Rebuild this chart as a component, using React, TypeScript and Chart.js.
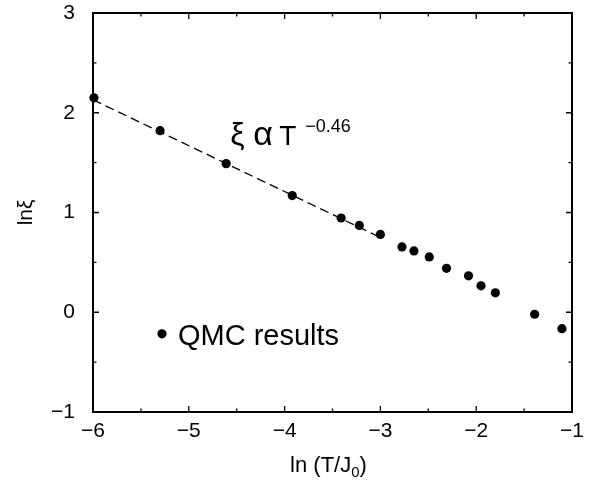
import React, { useEffect, useRef } from "react";
import { Chart, registerables } from "chart.js";

Chart.register(...registerables);

// QMC data: ln(T/J0) vs ln(xi)
const lnT = [-5.99, -5.3, -4.61, -3.92, -3.41, -3.22, -3.0, -2.775, -2.65, -2.49, -2.31, -2.08, -1.95, -1.8, -1.39, -1.105];
const lnXi = [2.15, 1.82, 1.49, 1.17, 0.945, 0.87, 0.78, 0.655, 0.615, 0.555, 0.44, 0.365, 0.265, 0.195, -0.02, -0.165];

// power-law fit  xi ~ T^-0.46
const fitX = [-6, -3];
const fitY = [2.13, 0.75];

const xRange = [-6, -1];
const yRange = [-1, 3];
const xMinorTicks = [-5.5, -4.5, -3.5, -2.5, -1.5];
const yMinorTicks = [-0.5, 0.5, 1.5, 2.5];

const annotationPos = { x: -4.567, y: 1.68 };
const legendPos = { x: -5.28, y: -0.216 };

const FONT = '"Liberation Sans", Arial, Helvetica, sans-serif';

const fmt = (v: number | string) => String(v).replace("-", "\u2212");

const framePlugin = {
  id: "frame",
  afterDraw(chart: any) {
    const { ctx, chartArea: a, scales } = chart;
    const xs = scales.x;
    const ys = scales.y;
    ctx.save();
    ctx.strokeStyle = "#000";
    ctx.lineCap = "butt";
    // ticks
    ctx.lineWidth = 1.3;
    const major = 6;
    const minor = 3.5;
    const drawX = (v: number, len: number) => {
      const p = xs.getPixelForValue(v);
      ctx.beginPath();
      ctx.moveTo(p, a.bottom);
      ctx.lineTo(p, a.bottom - len);
      ctx.moveTo(p, a.top);
      ctx.lineTo(p, a.top + len);
      ctx.stroke();
    };
    const drawY = (v: number, len: number) => {
      const p = ys.getPixelForValue(v);
      ctx.beginPath();
      ctx.moveTo(a.left, p);
      ctx.lineTo(a.left + len, p);
      ctx.moveTo(a.right, p);
      ctx.lineTo(a.right - len, p);
      ctx.stroke();
    };
    xs.ticks.forEach((t: any) => drawX(t.value, major));
    xMinorTicks.forEach((v) => drawX(v, minor));
    ys.ticks.forEach((t: any) => drawY(t.value, major));
    yMinorTicks.forEach((v) => drawY(v, minor));
    // frame
    ctx.lineWidth = 2;
    ctx.strokeRect(a.left, a.top, a.right - a.left, a.bottom - a.top);

    ctx.fillStyle = "#000";
    // annotation  xi alpha T^-0.46
    const ax = xs.getPixelForValue(annotationPos.x);
    const ay = ys.getPixelForValue(annotationPos.y);
    ctx.textAlign = "left";
    ctx.textBaseline = "alphabetic";
    ctx.font = `32px ${FONT}`;
    ctx.fillText("\u03BE", ax, ay);
    ctx.font = `34px ${FONT}`;
    ctx.fillText("\u03B1", ax + 23, ay);
    ctx.font = `28px ${FONT}`;
    ctx.fillText("T", ax + 49, ay);
    ctx.font = `18px ${FONT}`;
    ctx.fillText("\u22120.46", ax + 75, ay - 13);

    // legend
    const lx = xs.getPixelForValue(legendPos.x);
    const ly = ys.getPixelForValue(legendPos.y);
    ctx.beginPath();
    ctx.arc(lx, ly, 4.6, 0, Math.PI * 2);
    ctx.fill();
    ctx.font = `29px ${FONT}`;
    ctx.textBaseline = "alphabetic";
    ctx.fillText("QMC results", lx + 16, ly + 11);

    // x title: ln (T/J0)
    ctx.font = `22px ${FONT}`;
    const t1 = "ln (T/J";
    const t3 = ")";
    const w1 = ctx.measureText(t1).width;
    const w3 = ctx.measureText(t3).width;
    ctx.font = `15px ${FONT}`;
    const w2 = ctx.measureText("0").width;
    const total = w1 + w2 + w3;
    const cx = (a.left + a.right) / 2 - 4;
    const bx = cx - total / 2;
    const by = 471.5;
    ctx.font = `22px ${FONT}`;
    ctx.fillText(t1, bx, by);
    ctx.font = `15px ${FONT}`;
    ctx.fillText("0", bx + w1, by + 5);
    ctx.font = `22px ${FONT}`;
    ctx.fillText(t3, bx + w1 + w2, by);

    // y title: ln xi
    ctx.save();
    ctx.translate(26, (a.top + a.bottom) / 2);
    ctx.rotate(-Math.PI / 2);
    ctx.textAlign = "center";
    ctx.textBaseline = "middle";
    ctx.font = `21px ${FONT}`;
    ctx.fillText("ln\u03BE", 0, 0);
    ctx.restore();

    ctx.restore();
  },
};

export default function App() {
  const ref = useRef<HTMLCanvasElement | null>(null);
  useEffect(() => {
    if (!ref.current) return;
    const chart = new Chart(ref.current, {
      type: "scatter",
      data: {
        datasets: [
          {
            type: "line",
            label: "fit",
            data: fitX.map((x, i) => ({ x, y: fitY[i] })),
            borderColor: "#000",
            borderWidth: 1.3,
            borderDash: [9, 5],
            pointRadius: 0,
            fill: false,
          } as any,
          {
            label: "QMC results",
            data: lnT.map((x, i) => ({ x, y: lnXi[i] })),
            backgroundColor: "#000",
            borderColor: "#000",
            borderWidth: 0,
            pointRadius: 4.6,
            clip: false,
          } as any,
        ],
      },
      options: {
        animation: false,
        responsive: true,
        maintainAspectRatio: false,
        layout: { autoPadding: false, padding: { top: 13, right: 23, left: 0, bottom: 0 } },
        plugins: { legend: { display: false }, tooltip: { enabled: false } },
        scales: {
          x: {
            type: "linear",
            min: xRange[0],
            max: xRange[1],
            grid: { display: false, drawTicks: false },
            border: { display: false },
            ticks: {
              stepSize: 1,
              padding: 7,
              color: "#000",
              font: { family: FONT, size: 21 },
              callback: (v: any) => fmt(v),
              maxRotation: 0,
            },
            afterFit: (s: any) => {
              s.height = 68;
              s.paddingLeft = 0;
              s.paddingRight = 0;
            },
          },
          y: {
            type: "linear",
            min: yRange[0],
            max: yRange[1],
            grid: { display: false, drawTicks: false },
            border: { display: false },
            ticks: {
              stepSize: 1,
              padding: 18,
              color: "#000",
              font: { family: FONT, size: 21 },
              callback: (v: any) => fmt(v),
            },
            afterFit: (s: any) => {
              s.width = 93;
              s.paddingTop = 0;
              s.paddingBottom = 0;
            },
          },
        },
      } as any,
      plugins: [framePlugin],
    });
    return () => chart.destroy();
  }, []);
  return (
    <div style={{ position: "fixed", left: 0, top: 0, width: 595, height: 480 }}>
      <canvas ref={ref} />
    </div>
  );
}
